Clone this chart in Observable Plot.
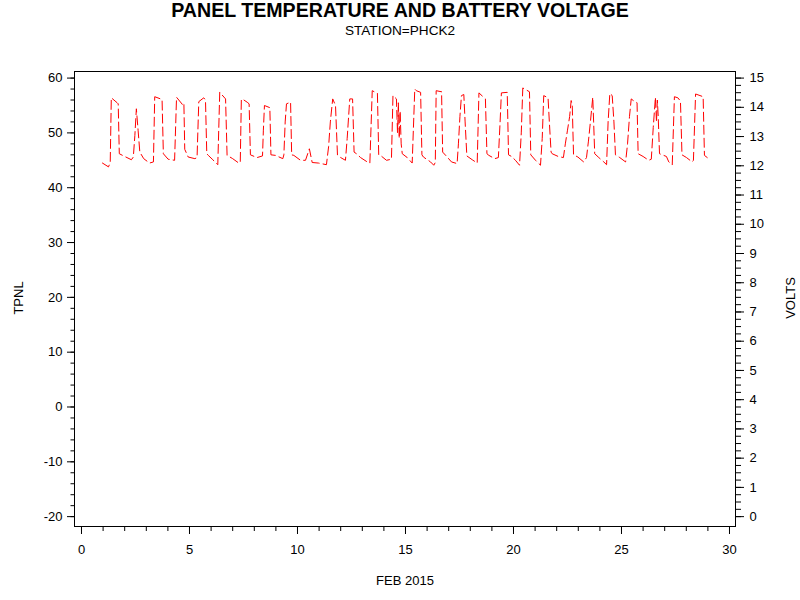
<!DOCTYPE html>
<html>
<head>
<meta charset="utf-8">
<script src="https://cdn.jsdelivr.net/npm/d3@7"></script>
<script src="https://cdn.jsdelivr.net/npm/@observablehq/plot@0.6"></script>
<style>
  body { margin: 0; background: #fff; }
  #wrap { position: relative; width: 800px; height: 600px; font-family: "Liberation Sans", Arial, sans-serif; color: #000; }
  .lbl { position: absolute; white-space: nowrap; }
  .ctr { left: 0; width: 800px; text-align: center; }
  .rot { transform: translate(-50%, -50%) rotate(-90deg); font-size: 13px; line-height: 13px; }
  #plot { position: absolute; left: 0; top: 0; }
</style>
</head>
<body>
<div id="wrap">
  <div id="plot"></div>
  <div class="lbl ctr" style="top:1px;font-size:19.6px;line-height:19.6px;font-weight:bold;">PANEL TEMPERATURE AND BATTERY VOLTAGE</div>
  <div class="lbl ctr" style="top:24.3px;font-size:13.6px;line-height:13.6px;">STATION=PHCK2</div>
  <div class="lbl" style="left:0;width:810px;text-align:center;top:573.5px;font-size:13px;line-height:13px;">FEB 2015</div>
  <div class="lbl rot" style="left:18px;top:298px;">TPNL</div>
  <div class="lbl rot" style="left:790px;top:298px;">VOLTS</div>
</div>
<script>
// Time in days of February 2015
const day = [
  0.97, 1.25, 1.33, 1.38, 1.65, 1.70, 1.75, 2.00, 2.31,
  2.40, 2.47, 2.54, 2.62, 2.70, 2.88, 3.15, 3.33,
  3.39, 3.73, 3.79, 4.01, 4.31,
  4.40, 4.67, 4.74, 4.78, 4.94, 5.25, 5.35,
  5.43, 5.66, 5.74, 5.80, 5.87, 6.08, 6.31,
  6.40, 6.67, 6.74, 7.00, 7.28, 7.35,
  7.40, 7.44, 7.67, 7.76, 7.82, 8.06, 8.13, 8.38,
  8.42, 8.47, 8.72, 8.77, 8.98, 9.32,
  9.37, 9.43, 9.49, 9.68, 9.73, 9.83, 10.14,
  10.37, 10.55, 10.68, 10.97, 11.34,
  11.44, 11.52, 11.63, 11.76, 11.85, 12.00, 12.22,
  12.30, 12.42, 12.55, 12.62, 12.73, 12.92, 13.23, 13.35,
  13.46, 13.70, 13.76, 13.84, 14.12, 14.35,
  14.42, 14.58, 14.63, 14.67, 14.71, 14.75, 14.80, 14.85, 15.08, 15.31,
  15.43, 15.50, 15.70, 15.76, 15.83, 16.16, 16.31, 16.38,
  16.42, 16.67, 16.72, 16.93, 17.13, 17.39,
  17.45, 17.52, 17.59, 17.70, 17.76, 17.84, 18.09, 18.32,
  18.40, 18.70, 18.77, 18.86, 19.13, 19.30,
  19.38, 19.44, 19.71, 19.77, 19.91, 20.09, 20.28,
  20.36, 20.43, 20.74, 20.80, 21.02, 21.25,
  21.33, 21.40, 21.60, 21.66, 21.74, 21.79, 22.07, 22.31,
  22.40, 22.50, 22.60, 22.67, 22.72, 22.78, 22.98, 23.25, 23.38,
  23.47, 23.56, 23.67, 23.71, 23.76, 23.95, 24.18, 24.31,
  24.38, 24.46, 24.57, 24.65, 24.72, 24.92, 25.19,
  25.28, 25.37, 25.45, 25.58, 25.72, 25.77, 26.00, 26.26, 26.38,
  26.47, 26.57, 26.62, 26.66, 26.70, 26.76, 27.08, 27.19, 27.35,
  27.45, 27.61, 27.73, 27.80, 28.01, 28.27, 28.33,
  28.43, 28.78, 28.84, 28.97
];
// Panel temperature values (left axis units)
const tpnl = [
  44.5, 43.8, 44.6, 56.4, 55.5, 55.3, 46.2, 45.7, 45.1,
  45.6, 49.5, 54.4, 50.5, 46.5, 45.3, 44.5, 44.7,
  56.6, 56.1, 46.2, 45.2, 45.0,
  56.5, 55.2, 55.5, 47.0, 45.6, 45.3, 45.5,
  55.7, 56.4, 56.0, 46.2, 45.9, 45.1, 44.2,
  57.4, 56.2, 45.9, 45.3, 44.5, 44.6,
  56.0, 56.2, 55.6, 55.3, 46.0, 45.6, 45.5, 45.8,
  50.5, 55.0, 54.6, 46.0, 45.9, 45.3,
  46.0, 52.0, 55.3, 55.6, 46.0, 45.9, 45.0,
  45.0, 47.1, 44.6, 44.5, 44.2,
  47.5, 52.0, 56.2, 55.0, 46.0, 45.5, 45.0,
  49.0, 56.2, 56.2, 46.5, 46.2, 45.5, 44.7, 44.5,
  57.7, 57.2, 46.0, 45.9, 45.0, 45.2,
  56.8, 56.2, 50.0, 55.5, 49.0, 54.0, 48.0, 46.2, 45.5, 44.5,
  58.0, 57.7, 57.4, 46.0, 45.6, 44.7, 44.1, 44.6,
  57.7, 57.5, 46.5, 45.6, 44.7, 44.4,
  48.0, 53.0, 56.8, 57.0, 52.0, 45.8, 45.1, 44.5,
  57.3, 56.2, 46.2, 45.9, 45.3, 45.5,
  52.0, 57.3, 57.4, 46.0, 45.7, 45.0, 44.1,
  50.0, 58.2, 57.5, 46.0, 45.0, 44.1,
  49.0, 56.8, 56.4, 52.0, 46.5, 46.2, 45.7, 45.5,
  48.0, 50.5, 53.0, 55.9, 55.0, 46.0, 45.6, 44.7, 45.5,
  48.5, 52.0, 56.5, 52.0, 46.2, 45.5, 44.7, 44.2,
  52.0, 57.2, 56.8, 52.0, 46.0, 45.5, 44.7,
  48.0, 53.0, 56.2, 55.8, 55.5, 46.2, 45.7, 45.0, 45.2,
  51.0, 56.5, 52.0, 56.0, 53.0, 46.2, 45.7, 44.7, 44.2,
  56.6, 56.4, 55.8, 46.0, 45.5, 44.7, 45.0,
  57.1, 56.6, 45.9, 45.5
];

// Tick labels
const xTicks = [0, 5, 10, 15, 20, 25, 30];
const xMinor = d3.range(0, 31, 1);
const tpnlTicks = [-20, -10, 0, 10, 20, 30, 40, 50, 60];
const tpnlMinor = d3.range(-20, 61, 2);
const voltTicks = [0, 1, 2, 3, 4, 5, 6, 7, 8, 9, 10, 11, 12, 13, 14, 15];
const voltMinor = d3.range(0, 15.001, 0.25);

const toT = v => v * 80 / 15 - 20;      // volts -> left-axis units
const toV = t => (t + 20) * 15 / 80;    // left-axis units -> volts

const data = day.map((d, i) => ({day: d, tpnl: tpnl[i]}));

const chart = Plot.plot({
  width: 800,
  height: 600,
  marginLeft: 74,
  marginRight: 65,
  marginTop: 71,
  marginBottom: 74,
  style: {fontFamily: '"Liberation Sans", Arial, sans-serif', fontSize: "13px", color: "black", background: "white"},
  x: {domain: [-0.324, 30.278]},
  y: {domain: [-21.8, 61.2]},
  marks: [
    Plot.frame({stroke: "black"}),
    Plot.axisX({ticks: xMinor, tickSize: 5, tickFormat: () => "", label: null, stroke: "black"}),
    Plot.axisX({ticks: xTicks, tickSize: 8, tickPadding: 10, tickFormat: d => String(d), label: null, stroke: "black"}),
    Plot.axisY({ticks: tpnlMinor, anchor: "left", tickSize: 3.5, tickFormat: () => "", label: null, stroke: "black"}),
    Plot.axisY({ticks: tpnlTicks, anchor: "left", tickSize: 7, tickPadding: 5, tickFormat: d => String(d), label: null, stroke: "black"}),
    Plot.axisY({ticks: voltMinor.map(toT), anchor: "right", tickSize: 5, tickFormat: () => "", label: null, stroke: "black"}),
    Plot.axisY({ticks: voltTicks.map(toT), anchor: "right", tickSize: 8, tickPadding: 6, tickFormat: t => String(Math.round(toV(t))), label: null, stroke: "black"}),
    Plot.line(data, {x: "day", y: "tpnl", stroke: "#ff0000", strokeWidth: 1, strokeDasharray: "9,4"})
  ]
});
document.getElementById("plot").appendChild(chart);
</script>
</body>
</html>
